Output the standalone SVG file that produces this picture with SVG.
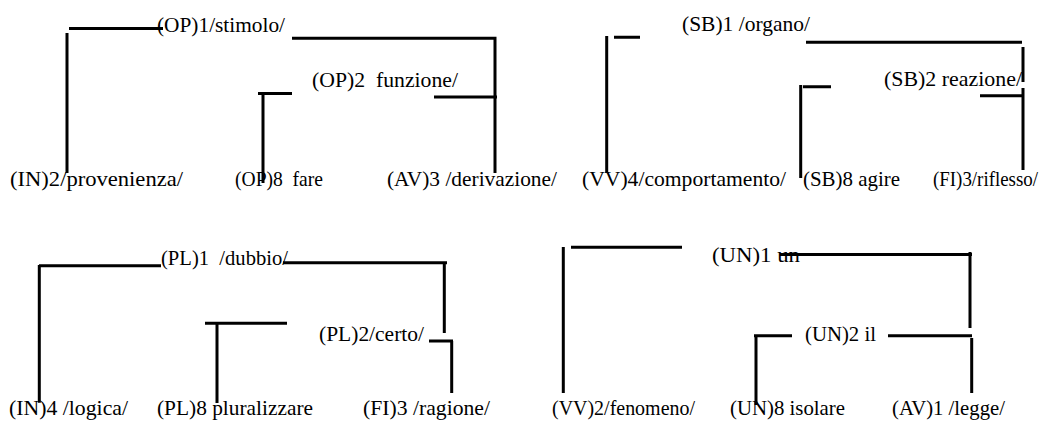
<svg xmlns="http://www.w3.org/2000/svg" width="1054" height="421" viewBox="0 0 1054 421">
<style>
.t{font-family:"Liberation Serif","Times New Roman",serif;font-size:21px;fill:#000;white-space:pre}
.c{stroke:#000;stroke-width:3;fill:none;stroke-linecap:butt}
</style>
<rect width="1054" height="421" fill="#fff"/>
<g id="connectors" class="c">
<path d="M69,28.5H163M67,33V173"/>
<path d="M292,38.3H495V173M434,97H497"/>
<path d="M258,93.5H292M263,93V183"/>
<path d="M606.7,36V173M614,37.3H640"/>
<path d="M806,42.3H1022M1023,47V82M1023,88V170M980,95.7H1023"/>
<path d="M800.7,85V178M803,86.7H831"/>
<path d="M39,265.7H161M39.3,265V402.7"/>
<path d="M283,262.7H447M444.3,262V333"/>
<path d="M205,323.3H287M217,323V403"/>
<path d="M429,341H453M451.7,341V393"/>
<path d="M563.3,247V393M571,247.3H682"/>
<path d="M780,254.5H972M970,252V328"/>
<path d="M888,335.7H972M971.7,338V393"/>
<path d="M754,335.7H792M756,335V405"/>
</g>
<g id="n-op1"><text class="t" x="157" y="32" textLength="128" lengthAdjust="spacingAndGlyphs">(OP)1/stimolo/</text></g>
<g id="n-op2"><text class="t" x="312" y="87" textLength="146" lengthAdjust="spacingAndGlyphs">(OP)2  funzione/</text></g>
<g id="n-in2"><text class="t" x="10" y="186" textLength="173" lengthAdjust="spacingAndGlyphs">(IN)2/provenienza/</text></g>
<g id="n-op8"><text class="t" x="235" y="186" textLength="88" lengthAdjust="spacingAndGlyphs">(OP)8  fare</text></g>
<g id="n-av3"><text class="t" x="387" y="186" textLength="170" lengthAdjust="spacingAndGlyphs">(AV)3 /derivazione/</text></g>
<g id="n-vv4"><text class="t" x="582" y="186" textLength="204" lengthAdjust="spacingAndGlyphs">(VV)4/comportamento/</text></g>
<g id="n-sb1"><text class="t" x="682" y="31" textLength="128" lengthAdjust="spacingAndGlyphs">(SB)1 /organo/</text></g>
<g id="n-sb2"><text class="t" x="884" y="85.5" textLength="138" lengthAdjust="spacingAndGlyphs">(SB)2 reazione/</text></g>
<g id="n-sb8"><text class="t" x="803" y="186" textLength="97" lengthAdjust="spacingAndGlyphs">(SB)8 agire</text></g>
<g id="n-fi3a"><text class="t" x="933" y="186" textLength="105" lengthAdjust="spacingAndGlyphs">(FI)3/riflesso/</text></g>
<g id="n-pl1"><text class="t" x="161" y="265" textLength="127" lengthAdjust="spacingAndGlyphs">(PL)1  /dubbio/</text></g>
<g id="n-pl2"><text class="t" x="319" y="340.5" textLength="105" lengthAdjust="spacingAndGlyphs">(PL)2/certo/</text></g>
<g id="n-in4"><text class="t" x="9" y="415" textLength="119" lengthAdjust="spacingAndGlyphs">(IN)4 /logica/</text></g>
<g id="n-pl8"><text class="t" x="157" y="415" textLength="156" lengthAdjust="spacingAndGlyphs">(PL)8 pluralizzare</text></g>
<g id="n-fi3b"><text class="t" x="363" y="415" textLength="127" lengthAdjust="spacingAndGlyphs">(FI)3 /ragione/</text></g>
<g id="n-un1"><text class="t" x="712" y="262" textLength="88" lengthAdjust="spacingAndGlyphs">(UN)1 un</text></g>
<g id="n-un2"><text class="t" x="805" y="340.5" textLength="71" lengthAdjust="spacingAndGlyphs">(UN)2 il</text></g>
<g id="n-vv2"><text class="t" x="552" y="415" textLength="143" lengthAdjust="spacingAndGlyphs">(VV)2/fenomeno/</text></g>
<g id="n-un8"><text class="t" x="730" y="415" textLength="115" lengthAdjust="spacingAndGlyphs">(UN)8 isolare</text></g>
<g id="n-av1"><text class="t" x="892" y="415" textLength="113" lengthAdjust="spacingAndGlyphs">(AV)1 /legge/</text></g>
</svg>
